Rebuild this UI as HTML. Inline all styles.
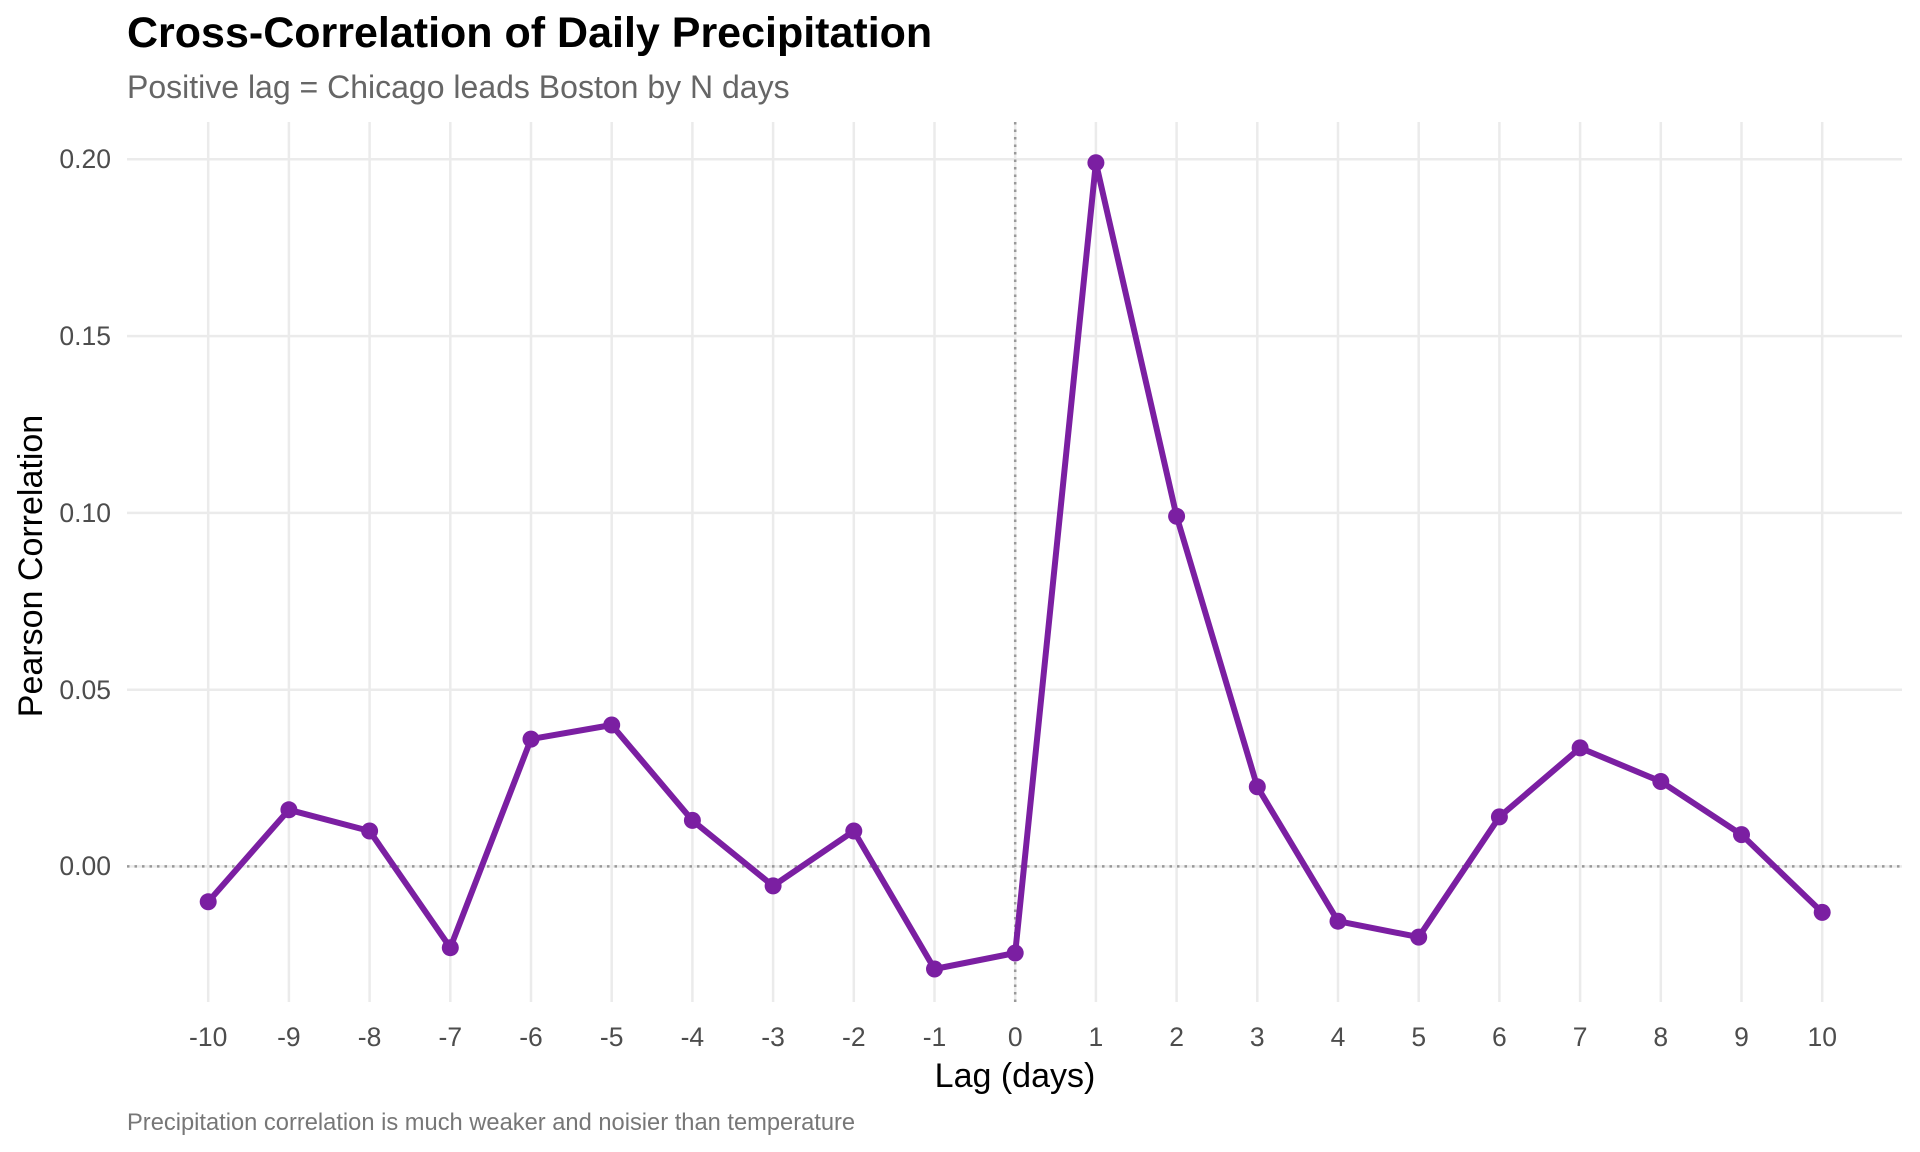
<!DOCTYPE html><html><head><style>body{margin:0;background:#fff}svg{display:block;font-family:"Liberation Sans",sans-serif}</style></head><body>
<svg width="1920" height="1152" viewBox="0 0 1920 1152">
<rect width="1920" height="1152" fill="#fff"/>
<g stroke="#ebebeb" stroke-width="2.5">
<line x1="127" x2="1902" y1="159.3" y2="159.3"/><line x1="127" x2="1902" y1="336.1" y2="336.1"/><line x1="127" x2="1902" y1="512.9" y2="512.9"/><line x1="127" x2="1902" y1="689.7" y2="689.7"/><line x1="127" x2="1902" y1="866.4" y2="866.4"/>
</g>
<g stroke="#ebebeb" stroke-width="2.5">
<line x1="208.2" x2="208.2" y1="122" y2="1002"/><line x1="288.9" x2="288.9" y1="122" y2="1002"/><line x1="369.6" x2="369.6" y1="122" y2="1002"/><line x1="450.3" x2="450.3" y1="122" y2="1002"/><line x1="531" x2="531" y1="122" y2="1002"/><line x1="611.7" x2="611.7" y1="122" y2="1002"/><line x1="692.4" x2="692.4" y1="122" y2="1002"/><line x1="773.1" x2="773.1" y1="122" y2="1002"/><line x1="853.8" x2="853.8" y1="122" y2="1002"/><line x1="934.5" x2="934.5" y1="122" y2="1002"/><line x1="1015.2" x2="1015.2" y1="122" y2="1002"/><line x1="1095.9" x2="1095.9" y1="122" y2="1002"/><line x1="1176.6" x2="1176.6" y1="122" y2="1002"/><line x1="1257.3" x2="1257.3" y1="122" y2="1002"/><line x1="1338" x2="1338" y1="122" y2="1002"/><line x1="1418.7" x2="1418.7" y1="122" y2="1002"/><line x1="1499.4" x2="1499.4" y1="122" y2="1002"/><line x1="1580.1" x2="1580.1" y1="122" y2="1002"/><line x1="1660.8" x2="1660.8" y1="122" y2="1002"/><line x1="1741.5" x2="1741.5" y1="122" y2="1002"/><line x1="1822.2" x2="1822.2" y1="122" y2="1002"/>
</g>
<g stroke="#999" stroke-width="2.5" stroke-dasharray="2.5,5">
<line x1="127" x2="1902" y1="866.4" y2="866.4"/><line x1="1015.2" x2="1015.2" y1="122" y2="1002"/>
</g>
<polyline fill="none" stroke="#7B1FA2" stroke-width="6" stroke-linejoin="round" points="208.2,901.8 288.9,809.8 369.6,831 450.3,947.7 531,739.1 611.7,725 692.4,820.4 773.1,885.9 853.8,831 934.5,969 1015.2,953 1095.9,162.7 1176.6,516.3 1257.3,786.8 1338,921.2 1418.7,937.1 1499.4,816.9 1580.1,747.9 1660.8,781.5 1741.5,834.6 1822.2,912.4"/>
<g fill="#7B1FA2">
<circle cx="208.2" cy="901.8" r="8.5"/><circle cx="288.9" cy="809.8" r="8.5"/><circle cx="369.6" cy="831" r="8.5"/><circle cx="450.3" cy="947.7" r="8.5"/><circle cx="531" cy="739.1" r="8.5"/><circle cx="611.7" cy="725" r="8.5"/><circle cx="692.4" cy="820.4" r="8.5"/><circle cx="773.1" cy="885.9" r="8.5"/><circle cx="853.8" cy="831" r="8.5"/><circle cx="934.5" cy="969" r="8.5"/><circle cx="1015.2" cy="953" r="8.5"/><circle cx="1095.9" cy="162.7" r="8.5"/><circle cx="1176.6" cy="516.3" r="8.5"/><circle cx="1257.3" cy="786.8" r="8.5"/><circle cx="1338" cy="921.2" r="8.5"/><circle cx="1418.7" cy="937.1" r="8.5"/><circle cx="1499.4" cy="816.9" r="8.5"/><circle cx="1580.1" cy="747.9" r="8.5"/><circle cx="1660.8" cy="781.5" r="8.5"/><circle cx="1741.5" cy="834.6" r="8.5"/><circle cx="1822.2" cy="912.4" r="8.5"/>
</g>
<g fill="#4d4d4d" font-size="26.5" text-anchor="end">
<text x="111" y="168">0.20</text><text x="111" y="345">0.15</text><text x="111" y="522">0.10</text><text x="111" y="699">0.05</text><text x="111" y="875">0.00</text>
</g>
<g fill="#4d4d4d" font-size="26.5" text-anchor="middle">
<text x="208.2" y="1046">-10</text><text x="288.9" y="1046">-9</text><text x="369.6" y="1046">-8</text><text x="450.3" y="1046">-7</text><text x="531" y="1046">-6</text><text x="611.7" y="1046">-5</text><text x="692.4" y="1046">-4</text><text x="773.1" y="1046">-3</text><text x="853.8" y="1046">-2</text><text x="934.5" y="1046">-1</text><text x="1015.2" y="1046">0</text><text x="1095.9" y="1046">1</text><text x="1176.6" y="1046">2</text><text x="1257.3" y="1046">3</text><text x="1338" y="1046">4</text><text x="1418.7" y="1046">5</text><text x="1499.4" y="1046">6</text><text x="1580.1" y="1046">7</text><text x="1660.8" y="1046">8</text><text x="1741.5" y="1046">9</text><text x="1822.2" y="1046">10</text>
</g>
<text x="1015" y="1087" font-size="34" text-anchor="middle" fill="#000">Lag (days)</text>
<text transform="translate(42,566) rotate(-90)" font-size="34" text-anchor="middle" fill="#000">Pearson Correlation</text>
<text x="127" y="47" font-size="43" font-weight="bold" fill="#000">Cross-Correlation of Daily Precipitation</text>
<text x="127" y="98" font-size="32" fill="#666">Positive lag = Chicago leads Boston by N days</text>
<text x="127" y="1130" font-size="23.7" fill="#777">Precipitation correlation is much weaker and noisier than temperature</text>
</svg>
</body></html>
